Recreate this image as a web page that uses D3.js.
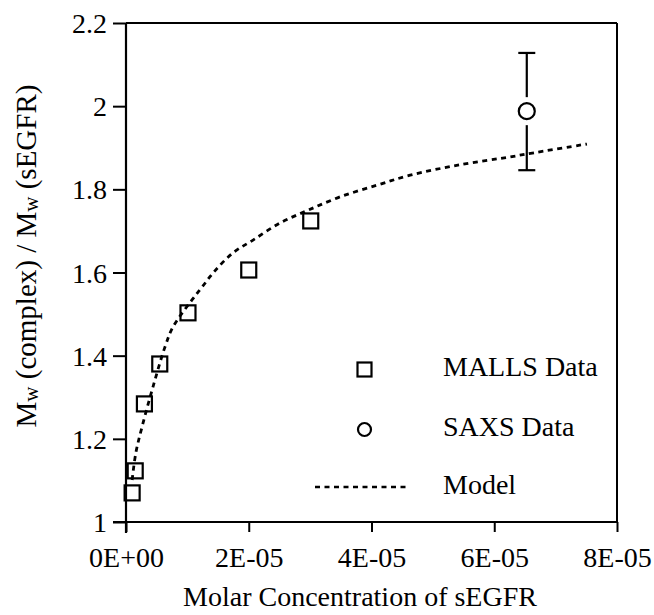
<!DOCTYPE html>
<html>
<head>
<meta charset="utf-8">
<script src="https://cdn.jsdelivr.net/npm/d3@7"></script>
</head>
<body style="margin:0; background:#fff">
<div id="chart"></div>
<script>
// MALLS measurements (molar conc., Mw ratio)
const mallsConc = [1.0e-6, 1.5e-6, 3.0e-6, 5.5e-6, 1.01e-5, 2.0e-5, 3.01e-5];
const mallsRatio = [1.07, 1.123, 1.284, 1.38, 1.503, 1.606, 1.724];

// SAXS point with error bar
const saxsConc = [6.53e-5];
const saxsRatio = [1.988];
const saxsLow = [1.846];
const saxsHigh = [2.128];

// model curve
const modelConc = [1.0e-6, 1.6e-6, 2.6e-6, 4.4e-6, 6.35e-6, 7.66e-6, 1.075e-5, 1.24e-5, 1.42e-5,
  1.74e-5, 2.07e-5, 2.51e-5, 2.97e-5, 3.49e-5, 4.09e-5, 4.63e-5, 5.44e-5, 6.26e-5, 6.53e-5, 7.51e-5];
const modelRatio = [1.101, 1.166, 1.228, 1.325, 1.421, 1.469, 1.534, 1.565, 1.599,
  1.647, 1.678, 1.719, 1.750, 1.782, 1.810, 1.834, 1.859, 1.878, 1.885, 1.909];

const xTicks = [0, 2e-5, 4e-5, 6e-5, 8e-5];
const xTickLabels = ["0E+00", "2E-05", "4E-05", "6E-05", "8E-05"];
const yTicks = [1, 1.2, 1.4, 1.6, 1.8, 2, 2.2];
const yTickLabels = ["1", "1.2", "1.4", "1.6", "1.8", "2", "2.2"];

const legendLabels = ["MALLS Data", "SAXS Data", "Model"];

const FONT = "Liberation Serif";
const width = 654, height = 615;
const margin = { top: 23, right: 37, bottom: 93, left: 126 };
const innerW = width - margin.left - margin.right;
const innerH = height - margin.top - margin.bottom;

const svg = d3.select("#chart").append("svg")
  .attr("width", width).attr("height", height);
const g = svg.append("g").attr("transform", `translate(${margin.left},${margin.top})`);

const x = d3.scaleLinear().domain([0, 8e-5]).range([0, innerW]);
const y = d3.scaleLinear().domain([1, 2.2]).range([innerH, 0]);

// frame (top and right)
g.append("line").attr("x1", 0).attr("x2", innerW).attr("y1", 0).attr("y2", 0)
  .attr("stroke", "#000").attr("stroke-width", 2);
g.append("line").attr("x1", innerW).attr("x2", innerW).attr("y1", 0).attr("y2", innerH)
  .attr("stroke", "#000").attr("stroke-width", 2);

// y axis
const yAxis = g.append("g")
  .call(d3.axisLeft(y).tickValues(yTicks).tickSize(13).tickPadding(6)
    .tickFormat((d, i) => yTickLabels[i]));
yAxis.attr("font-family", FONT);
yAxis.select(".domain").attr("stroke-width", 2.2).attr("d", `M0,${innerH + 11}V0`);
yAxis.selectAll(".tick line").attr("stroke-width", 2);
yAxis.selectAll(".tick text").attr("font-family", FONT).attr("font-size", 28).attr("dy", "0.34em");

// x axis
const xAxis = g.append("g").attr("transform", `translate(0,${innerH})`)
  .call(d3.axisBottom(x).tickValues(xTicks).tickSize(10).tickPadding(15)
    .tickFormat((d, i) => xTickLabels[i]));
xAxis.attr("font-family", FONT);
xAxis.select(".domain").attr("stroke-width", 2.2).attr("d", `M-13,0H${innerW}`);
xAxis.selectAll(".tick line").attr("stroke-width", 2);
xAxis.selectAll(".tick text").attr("font-family", FONT).attr("font-size", 28);

// axis titles
svg.append("text")
  .attr("x", 360).attr("y", 606)
  .attr("text-anchor", "middle").attr("font-size", 28).attr("font-family", FONT)
  .text("Molar Concentration of sEGFR");

const yTitle = svg.append("text")
  .attr("transform", `translate(36,${256}) rotate(-90)`)
  .attr("text-anchor", "middle").attr("font-size", 29).attr("font-family", FONT);
yTitle.append("tspan").text("M");
yTitle.append("tspan").attr("font-size", 21).attr("dy", 2).text("w");
yTitle.append("tspan").attr("dy", -2).text(" (complex) / M");
yTitle.append("tspan").attr("font-size", 21).attr("dy", 2).text("w");
yTitle.append("tspan").attr("dy", -2).text(" (sEGFR)");

// model curve
const modelData = modelConc.map((c, i) => [c, modelRatio[i]]);
g.append("path").datum(modelData)
  .attr("fill", "none").attr("stroke", "#000").attr("stroke-width", 2.8)
  .attr("stroke-dasharray", "5,4.5")
  .attr("d", d3.line().x(d => x(d[0])).y(d => y(d[1])).curve(d3.curveCatmullRom));

// MALLS squares
const sq = 15;
g.selectAll("rect.malls").data(mallsConc).enter().append("rect")
  .attr("class", "malls")
  .attr("x", d => x(d) - sq / 2)
  .attr("y", (d, i) => y(mallsRatio[i]) - sq / 2)
  .attr("width", sq).attr("height", sq)
  .attr("fill", "none").attr("stroke", "#000").attr("stroke-width", 2.2);

// SAXS error bar and circle
saxsConc.forEach((c, i) => {
  const cx = x(c), cy = y(saxsRatio[i]);
  const r = 8, gap = 6;
  g.append("line").attr("x1", cx).attr("x2", cx)
    .attr("y1", y(saxsHigh[i])).attr("y2", cy - r - gap)
    .attr("stroke", "#000").attr("stroke-width", 2.2);
  g.append("line").attr("x1", cx).attr("x2", cx)
    .attr("y1", cy + r + gap).attr("y2", y(saxsLow[i]))
    .attr("stroke", "#000").attr("stroke-width", 2.2);
  [saxsHigh[i], saxsLow[i]].forEach(v => {
    g.append("line").attr("x1", cx - 8.5).attr("x2", cx + 8.5)
      .attr("y1", y(v)).attr("y2", y(v))
      .attr("stroke", "#000").attr("stroke-width", 2.2);
  });
  g.append("circle").attr("cx", cx).attr("cy", cy).attr("r", r)
    .attr("fill", "#fff").attr("stroke", "#000").attr("stroke-width", 2.2);
});

// legend
const leg = svg.append("g");
const legY = [369.5, 429.5, 487];
leg.append("rect").attr("x", 357.5).attr("y", legY[0] - 7).attr("width", 14).attr("height", 14)
  .attr("fill", "none").attr("stroke", "#000").attr("stroke-width", 2.2);
leg.append("circle").attr("cx", 364.5).attr("cy", legY[1]).attr("r", 6.5)
  .attr("fill", "none").attr("stroke", "#000").attr("stroke-width", 2.2);
leg.append("line").attr("x1", 315).attr("x2", 410).attr("y1", legY[2]).attr("y2", legY[2])
  .attr("stroke", "#000").attr("stroke-width", 2.5).attr("stroke-dasharray", "5,4.5");
legendLabels.forEach((t, i) => {
  leg.append("text").attr("x", 443).attr("y", legY[i] + 6.5)
    .attr("font-family", FONT).attr("font-size", 28).text(t);
});
</script>
</body>
</html>
